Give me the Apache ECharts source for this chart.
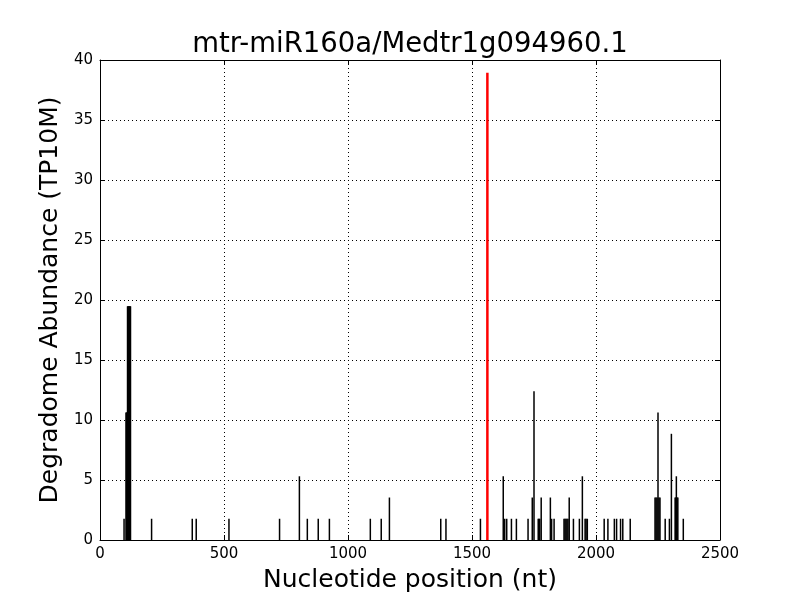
<!DOCTYPE html>
<html>
<head>
<meta charset="utf-8">
<script src="https://cdn.jsdelivr.net/npm/echarts@6/dist/echarts.min.js"></script>
<style>
  html, body { margin: 0; padding: 0; background: #fff; }
  #chart { width: 800px; height: 600px; }
</style>
</head>
<body>
<div id="chart"></div>
<script>
// degradome reads along the transcript (TP10M)
const positions = [
  97, 105, 107, 109, 111, 113, 115, 117, 119, 121, 123,
  208, 372, 388, 520, 724, 804, 836, 880, 925,
  1090, 1134, 1167, 1374, 1395, 1534,
  1626, 1632, 1640, 1659, 1679, 1726, 1743, 1750,
  1767, 1770, 1773, 1779, 1816, 1821, 1831,
  1871, 1875, 1879, 1883, 1887, 1892, 1909, 1933, 1945,
  1956, 1960, 1965,
  2033, 2048, 2074, 2083, 2099, 2108, 2138,
  2238, 2242, 2246, 2250, 2254, 2258,
  2279, 2296, 2304, 2319, 2322, 2324, 2327, 2330, 2352
]
const abundance = [
  1.77, 10.62, 10.62, 10.62, 19.47, 19.47, 19.47, 19.47, 19.47, 19.47, 19.47,
  1.77, 1.77, 1.77, 1.77, 1.77, 5.31, 1.77, 1.77, 1.77,
  1.77, 1.77, 3.54, 1.77, 1.77, 1.77,
  5.31, 1.77, 1.77, 1.77, 1.77, 1.77, 3.54, 12.39,
  1.77, 1.77, 1.77, 3.54, 3.54, 1.77, 1.77,
  1.77, 1.77, 1.77, 1.77, 1.77, 3.54, 1.77, 1.77, 5.31,
  1.77, 1.77, 1.77,
  1.77, 1.77, 1.77, 1.77, 1.77, 1.77, 1.77,
  3.54, 3.54, 3.54, 10.62, 3.54, 3.54,
  1.77, 1.77, 8.85, 3.54, 3.54, 5.31, 3.54, 3.54, 1.77
]
// predicted miRNA cleavage site
const sitePosition = 1562
const siteAbundance = 38.94

const xTicks = [0, 500, 1000, 1500, 2000, 2500]
const yTicks = [0, 5, 10, 15, 20, 25, 30, 35, 40]

const font = 'DejaVu Sans'

const barData = positions.map((p, i) => [p, abundance[i]])

const chart = echarts.init(document.getElementById('chart'))

const frameLine = { show: true, onZero: false, lineStyle: { color: '#000', width: 1 } }
const innerTick = { show: true, inside: true, length: 5, lineStyle: { color: '#000' } }
const dotted = { show: true, lineStyle: { color: '#000', type: [1, 3], width: 1 } }

const option = {
  animation: false,
  backgroundColor: '#fff',
  textStyle: { fontFamily: font },
  title: {
    text: 'mtr-miR160a/Medtr1g094960.1',
    left: 405,
    textAlign: 'center',
    top: 26,
    textStyle: { fontFamily: font, fontSize: 27.5, fontWeight: 'normal', color: '#000' }
  },
  grid: { left: 100, right: 80, top: 60, bottom: 60 },
  xAxis: [
    {
      type: 'value',
      min: xTicks[0],
      max: xTicks[xTicks.length - 1],
      interval: 500,
      name: 'Nucleotide position (nt)',
      nameLocation: 'middle',
      nameGap: 28,
      nameTextStyle: { fontFamily: font, fontSize: 25, color: '#000' },
      axisLine: frameLine,
      axisTick: innerTick,
      axisLabel: { color: '#000', fontSize: 15, fontFamily: font, margin: 7, formatter: v => String(v) },
      splitLine: dotted
    },
    {
      type: 'value',
      position: 'top',
      min: xTicks[0],
      max: xTicks[xTicks.length - 1],
      interval: 500,
      axisLine: frameLine,
      axisTick: innerTick,
      axisLabel: { show: false },
      splitLine: { show: false }
    }
  ],
  yAxis: [
    {
      type: 'value',
      min: yTicks[0],
      max: yTicks[yTicks.length - 1],
      interval: 5,
      name: 'Degradome Abundance (TP10M)',
      nameLocation: 'middle',
      nameGap: 35,
      nameTextStyle: { fontFamily: font, fontSize: 25, color: '#000' },
      axisLine: frameLine,
      axisTick: innerTick,
      axisLabel: { color: '#000', fontSize: 15, fontFamily: font, margin: 7 },
      splitLine: dotted
    },
    {
      type: 'value',
      position: 'right',
      min: yTicks[0],
      max: yTicks[yTicks.length - 1],
      interval: 5,
      axisLine: frameLine,
      axisTick: innerTick,
      axisLabel: { show: false },
      splitLine: { show: false }
    }
  ],
  series: [
    {
      type: 'bar',
      xAxisIndex: 0,
      yAxisIndex: 0,
      barWidth: 1.5,
      itemStyle: { color: '#000' },
      data: barData
    },
    {
      type: 'line',
      xAxisIndex: 0,
      yAxisIndex: 0,
      showSymbol: false,
      symbol: 'none',
      lineStyle: { color: '#ff0000', width: 2.5 },
      data: [[sitePosition, 0], [sitePosition, siteAbundance]]
    }
  ]
}
chart.setOption(option)
</script>
</body>
</html>
